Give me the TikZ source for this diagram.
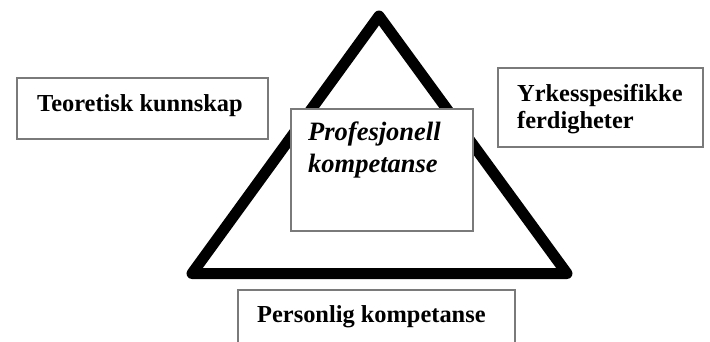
\documentclass[tikz,border=0pt]{standalone}
\usepackage{fontspec}
\setmainfont{Liberation Serif}
\definecolor{boxgray}{HTML}{7A7A7A}
\begin{document}
\begin{tikzpicture}[x=1pt,y=-1pt,
  box/.style={draw=boxgray, line width=1.4pt, fill=white, inner sep=0pt},
  lbl/.style={font=\fontsize{24.4}{27}\selectfont\bfseries, anchor=base west, inner sep=0pt},
  ilbl/.style={font=\fontsize{26.5}{32}\selectfont\bfseries\itshape, anchor=base west, inner sep=0pt},
  tri/.style={draw=black, line width=11pt, line join=round}]
\useasboundingbox (0,0) rectangle (710,341);
\path[clip] (0,0) rectangle (710,341);
% triangle
\coordinate (apex) at (379,16);
\coordinate (bl) at (192,273.5);
\coordinate (br) at (567,273.5);
\draw[tri] (apex) -- (bl) -- (br) -- cycle;
% boxes
\node[box, minimum width=251pt, minimum height=61pt] (teo) at (142.5,108.5) {};
\node[box, minimum width=205pt, minimum height=79pt] (yrk) at (600.5,107.5) {};
\node[box, minimum width=182pt, minimum height=122pt] (pro) at (382,170) {};
\node[box, minimum width=277pt, minimum height=80pt] (per) at (376.5,330) {};
% texts
\node[lbl] (teo-t) at (37,111) {Teoretisk kunnskap};
\node[lbl] (yrk-t1) at (517,101) {Yrkesspesifikke};
\node[lbl] (yrk-t2) at (517,128) {ferdigheter};
\node[ilbl] (pro-t1) at (308,140) {Profesjonell};
\node[ilbl] (pro-t2) at (308,172) {kompetanse};
\node[lbl] (per-t) at (257,322) {Personlig kompetanse};
\end{tikzpicture}
\end{document}
